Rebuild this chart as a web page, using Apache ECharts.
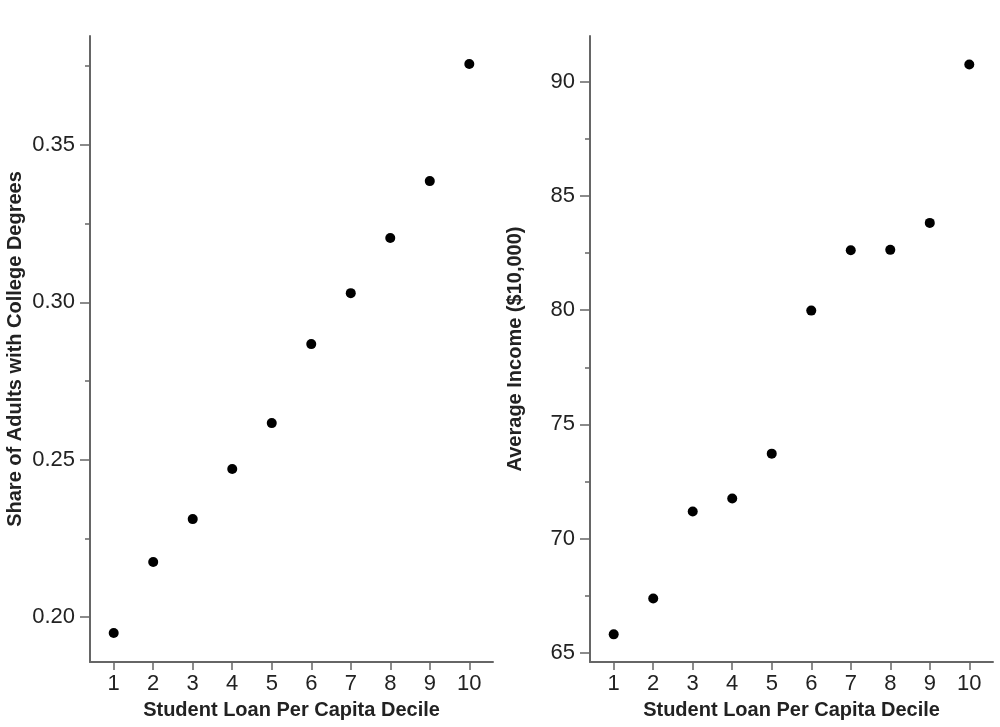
<!DOCTYPE html>
<html>
<head>
<meta charset="utf-8">
<script src="https://cdn.jsdelivr.net/npm/echarts@6/dist/echarts.min.js"></script>
<style>
  html, body { margin: 0; padding: 0; background: #fff; }
  #chart { width: 1000px; height: 727px; }
</style>
</head>
<body>
<div id="chart"></div>
<script>
// data
let deciles = [1, 2, 3, 4, 5, 6, 7, 8, 9, 10];
let collegeShare = [0.1949, 0.2175, 0.2311, 0.2470, 0.2616, 0.2867, 0.3029, 0.3204, 0.3385, 0.3757];
let avgIncome = [65.81, 67.38, 71.19, 71.76, 73.72, 79.98, 82.62, 82.64, 83.82, 90.75];
let leftTicks = [0.20, 0.25, 0.30, 0.35];
let leftMinor = [0.225, 0.275, 0.325, 0.375];
let rightTicks = [65, 70, 75, 80, 85, 90];
let rightMinor = [67.5, 72.5, 77.5, 82.5, 87.5];

window.onload = function () {
    let chart = echarts.init(document.getElementById('chart'));

    let axisColor = '#666';
    let textColor = '#222';
    let font = 'Liberation Sans, Arial, sans-serif';

    function xAxis(grid) {
        return {
            type: 'value',
            gridIndex: grid,
            min: 0.4,
            max: 10.6,
            name: 'Student Loan Per Capita Decile',
            nameLocation: 'middle',
            nameGap: 38,
            nameTextStyle: { fontFamily: font, fontSize: 20, fontWeight: 'bold', color: textColor },
            axisLine: { lineStyle: { color: axisColor, width: 2 } },
            axisTick: { customValues: deciles, length: 8, lineStyle: { color: axisColor, width: 1.5 } },
            axisLabel: { customValues: deciles, fontFamily: font, fontSize: 22, color: textColor, margin: 11 },
            splitLine: { show: false }
        };
    }

    function yAxis(grid, min, max, ticks, name, fmt) {
        return {
            type: 'value',
            gridIndex: grid,
            position: 'left',
            min: min,
            max: max,
            name: name,
            nameLocation: 'middle',
            nameGap: 65,
            nameTextStyle: { fontFamily: font, fontSize: 20, fontWeight: 'bold', color: textColor },
            axisLine: { show: true, lineStyle: { color: axisColor, width: 2 } },
            axisTick: { show: true, customValues: ticks, length: 10, lineStyle: { color: axisColor, width: 1.5 } },
            axisLabel: { customValues: ticks, fontFamily: font, fontSize: 22, color: textColor, margin: 15, formatter: fmt },
            splitLine: { show: false }
        };
    }

    function minorAxis(grid, min, max, ticks) {
        return {
            type: 'value',
            gridIndex: grid,
            position: 'left',
            offset: 0,
            min: min,
            max: max,
            axisLine: { show: false },
            axisTick: { show: true, customValues: ticks, length: 5, lineStyle: { color: axisColor, width: 1.5 } },
            axisLabel: { show: false },
            splitLine: { show: false }
        };
    }

    let option = {
        animation: false,
        backgroundColor: '#fff',
        grid: [
            { left: 90, right: 507, top: 36, bottom: 65 },
            { left: 590, right: 7, top: 36, bottom: 65 }
        ],
        xAxis: [xAxis(0), xAxis(1)],
        yAxis: [
            yAxis(0, 0.1857, 0.3846, leftTicks, 'Share of Adults with College Degrees', (v) => v.toFixed(2)),
            yAxis(1, 64.6, 92.0, rightTicks, 'Average Income ($10,000)', (v) => String(v)),
            minorAxis(0, 0.1857, 0.3846, leftMinor),
            minorAxis(1, 64.6, 92.0, rightMinor)
        ],
        series: [
            {
                type: 'scatter',
                xAxisIndex: 0,
                yAxisIndex: 0,
                symbolSize: 10,
                itemStyle: { color: '#000', opacity: 1 },
                data: deciles.map((d, i) => [d, collegeShare[i]])
            },
            {
                type: 'scatter',
                xAxisIndex: 1,
                yAxisIndex: 1,
                symbolSize: 10,
                itemStyle: { color: '#000', opacity: 1 },
                data: deciles.map((d, i) => [d, avgIncome[i]])
            }
        ]
    };
    chart.setOption(option);
};
</script>
</body>
</html>
